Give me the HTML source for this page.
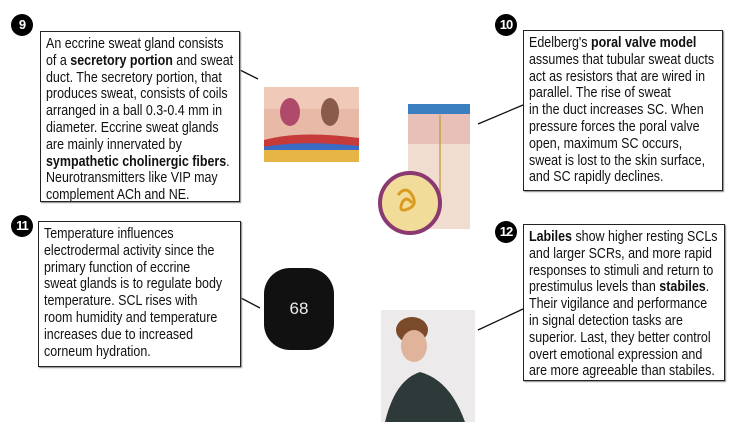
<!DOCTYPE html>
<html><head><meta charset="utf-8"><style>
body{margin:0;width:750px;height:422px;background:#fff;position:relative;overflow:hidden;font-family:"Liberation Sans",sans-serif;}
.box{position:absolute;border:1.5px solid #222;box-sizing:border-box;color:#111;padding:4px 0 0 5px;box-shadow:1px 1px 1px #888;overflow:hidden}
.box .t{display:block;white-space:nowrap;font-size:14.5px;line-height:16.8px;transform:scaleX(0.86);transform-origin:0 0;}
.n{position:absolute;width:22px;height:22px;border-radius:50%;background:#000;color:#fff;font:bold 13px "Liberation Sans",sans-serif;text-align:center;line-height:22px;letter-spacing:-1px}
b{font-weight:bold}
svg{position:absolute;left:0;top:0}
</style></head><body>
<svg width="750" height="422">
<line x1="240" y1="70" x2="258" y2="79" stroke="#111" stroke-width="1.3"/>
<line x1="478" y1="124" x2="523" y2="105" stroke="#111" stroke-width="1.3"/>
<line x1="241" y1="298" x2="260" y2="308" stroke="#111" stroke-width="1.3"/>
<line x1="478" y1="330" x2="523" y2="309" stroke="#111" stroke-width="1.3"/>
<rect x="264" y="87" width="95" height="75" fill="#e8b9a6"/>
<rect x="264" y="87" width="95" height="22" fill="#f0c9b8"/>
<path d="M264 140 Q300 130 359 138 L359 148 Q300 142 264 150Z" fill="#c63a3a"/>
<path d="M264 147 Q300 140 359 146 L359 152 Q300 148 264 155Z" fill="#3a6cc6"/>
<rect x="264" y="150" width="95" height="12" fill="#e7b545"/>
<ellipse cx="290" cy="112" rx="10" ry="14" fill="#b04a6a"/>
<ellipse cx="330" cy="112" rx="9" ry="14" fill="#8a5a4a"/>
<rect x="408" y="104" width="62" height="12" fill="#3b7fc0"/>
<rect x="408" y="114" width="62" height="30" fill="#e8c0b8"/>
<rect x="408" y="144" width="62" height="85" fill="#f1dcd0"/>
<line x1="440" y1="115" x2="440" y2="200" stroke="#c9a050" stroke-width="1.5"/>
<circle cx="410" cy="203" r="30" fill="#f2dc9a" stroke="#8a3a70" stroke-width="4"/>
<path d="M398 195 q8 -10 14 0 q6 10 -4 14 q-10 4 -6 -6 q4 -8 10 0" fill="none" stroke="#d99a20" stroke-width="3"/>
<rect x="264" y="268" width="70" height="82" rx="26" fill="#111"/>
<text x="299" y="314" fill="#eee" font-family="Liberation Sans,sans-serif" font-size="17" text-anchor="middle">68</text>
<rect x="381" y="310" width="94" height="112" fill="#eceaea"/>
<ellipse cx="412" cy="330" rx="16" ry="13" fill="#7a4a2a"/>
<ellipse cx="414" cy="346" rx="13" ry="16" fill="#e0b49a"/>
<path d="M385 422 Q395 380 420 372 Q450 380 465 422Z" fill="#2e3a3a"/>
</svg>
<div class="n" style="left:11px;top:14px">9</div>
<div class="n" style="left:495px;top:14px">10</div>
<div class="n" style="left:11px;top:215px">11</div>
<div class="n" style="left:495px;top:221px">12</div>
<div class="box" style="left:40px;top:31px;width:200px;height:171px"><span class="t">An eccrine sweat gland consists<br>of a <b>secretory portion</b> and sweat<br>duct. The secretory portion, that<br>produces sweat, consists of coils<br>arranged in a ball 0.3-0.4 mm in<br>diameter. Eccrine sweat glands<br>are mainly innervated by<br><b>sympathetic cholinergic fibers</b>.<br>Neurotransmitters like VIP may<br>complement ACh and NE.</span></div>
<div class="box" style="left:523px;top:30px;width:200px;height:161px"><span class="t">Edelberg's <b>poral valve model</b><br>assumes that tubular sweat ducts<br>act as resistors that are wired in<br>parallel. The rise of sweat<br>in the duct increases SC. When<br>pressure forces the poral valve<br>open, maximum SC occurs,<br>sweat is lost to the skin surface,<br>and SC rapidly declines.</span></div>
<div class="box" style="left:38px;top:221px;width:203px;height:146px"><span class="t">Temperature influences<br>electrodermal activity since the<br>primary function of eccrine<br>sweat glands is to regulate body<br>temperature. SCL rises with<br>room humidity and temperature<br>increases due to increased<br>corneum hydration.</span></div>
<div class="box" style="left:523px;top:224px;width:202px;height:157px"><span class="t"><b>Labiles</b> show higher resting SCLs<br>and larger SCRs, and more rapid<br>responses to stimuli and return to<br>prestimulus levels than <b>stabiles</b>.<br>Their vigilance and performance<br>in signal detection tasks are<br>superior. Last, they better control<br>overt emotional expression and<br>are more agreeable than stabiles.</span></div>
</body></html>
